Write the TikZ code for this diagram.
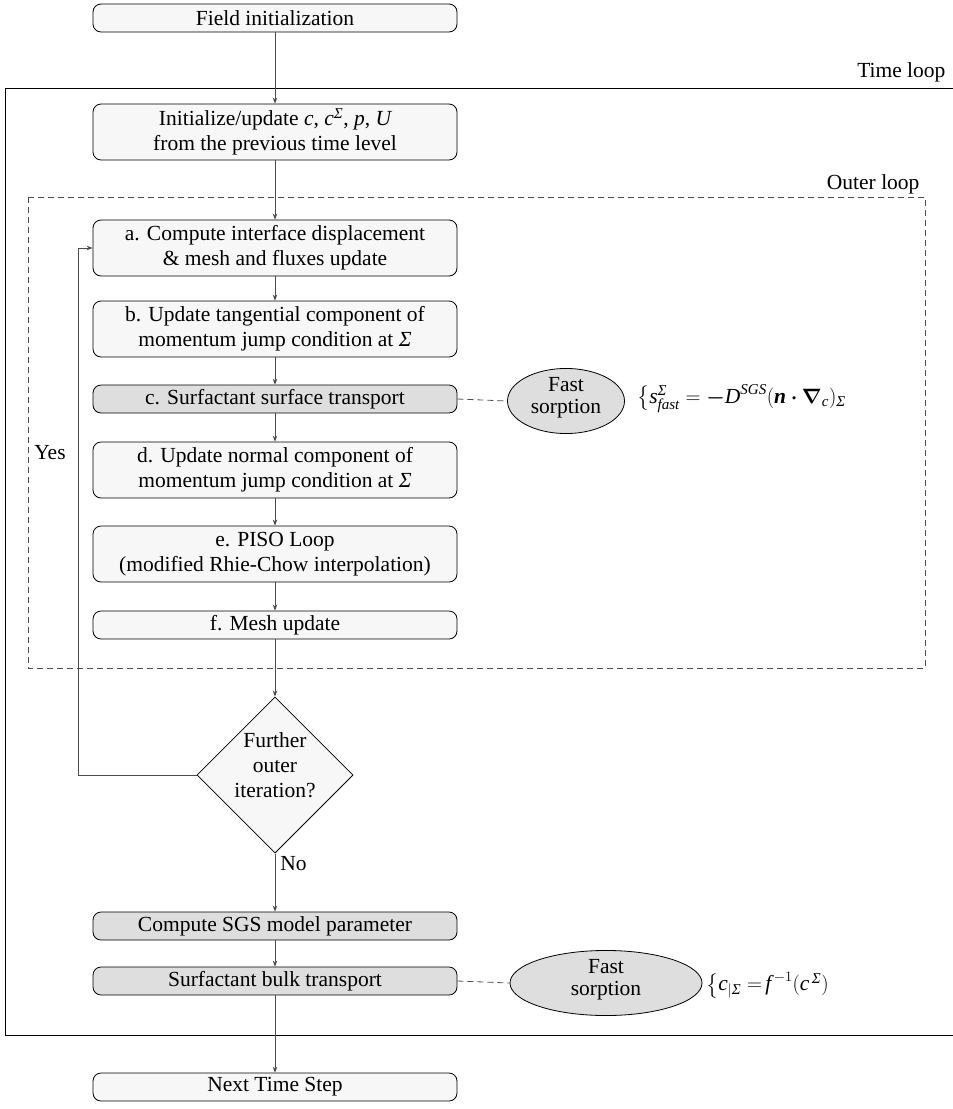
\documentclass[tikz,border=0pt]{standalone}
\usepackage{amsmath}
\usepackage{fontspec}
\setmainfont{Liberation Serif}
\usetikzlibrary{shapes.geometric,arrows.meta}
\definecolor{boxfill}{gray}{0.97}
\definecolor{grayfill}{gray}{0.87}
\definecolor{linegray}{gray}{0.3}
\newcommand{\mi}[1]{\text{\itshape #1}}
\newcommand{\Sg}{\text{\itshape Σ}}
\begin{document}
\begin{tikzpicture}[x=1pt,y=-1pt,
  font=\fontsize{21.5}{25}\selectfont,
  box/.style={draw=black, line width=0.8pt, rounded corners=8pt, fill=boxfill,
    minimum width=364pt, minimum height=28pt, align=center, inner sep=2pt},
  tallbox/.style={box, minimum height=56pt},
  graybox/.style={box, fill=grayfill},
  arr/.style={draw=linegray, line width=0.8pt, -{Stealth[length=6pt,width=4.5pt]}},
  ell/.style={ellipse, draw=black, line width=0.8pt, fill=grayfill, align=center,
    inner sep=0pt, font=\fontsize{21.5}{24}\selectfont},
  dline/.style={draw=linegray, line width=0.8pt, dash pattern=on 6pt off 4pt},
  dec/.style={diamond, draw=black, line width=0.8pt, fill=boxfill, align=center,
    inner sep=0pt, minimum width=156pt, minimum height=156pt, aspect=1}
]
\useasboundingbox (0,0) rectangle (953,1109);

% time loop frame
\draw[line width=0.8pt] (953,88) -- (5,88) -- (5,1035) -- (953,1035);
\node[anchor=east] (tl) at (949,72) {Time loop};

% outer loop frame
\draw[dline] (28,197) rectangle (925,668);
\node[anchor=east] (ol) at (923,184) {Outer loop};

% nodes
\node[box] (fi) at (275,18) {Field initialization};
\node[tallbox] (iu) at (275,132) {Initialize/update $\mi{c}$, $\mi{c}^{\Sg}$, $\mi{p}$, $\mi{U}$\\from the previous time level};
\node[tallbox] (a) at (275,248) {a. Compute interface displacement\\\& mesh and fluxes update};
\node[tallbox] (b) at (275,329) {b. Update tangential component of\\momentum jump condition at \textit{Σ}};
\node[graybox] (c) at (275,399) {c. Surfactant surface transport};
\node[tallbox] (d) at (275,470) {d. Update normal component of\\momentum jump condition at \textit{Σ}};
\node[tallbox] (e) at (275,554) {e. PISO Loop\\(modified Rhie-Chow interpolation)};
\node[box] (f) at (275,625) {f. Mesh update};
\node[dec] (dia) at (275,775) {\raisebox{8pt}[\height][\depth]{\begin{tabular}{@{}c@{}}Further\\outer\\iteration?\end{tabular}}};
\node[graybox] (sgs) at (275,926) {Compute SGS model parameter};
\node[graybox] (bulk) at (275,981) {Surfactant bulk transport};
\node[box] (next) at (275,1087) {Next Time Step};

\node[ell, minimum width=117pt, minimum height=62pt] (fs1) at (566,401) {\raisebox{3pt}[\height][\depth]{\begin{tabular}{@{}c@{}}Fast\\[-2pt]sorption\end{tabular}}};
\node[ell, minimum width=192pt, minimum height=62pt] (fs2) at (606,983) {\raisebox{3pt}[\height][\depth]{\begin{tabular}{@{}c@{}}Fast\\[-2pt]sorption\end{tabular}}};

\node[anchor=west, inner sep=0pt] (eq1) at (637,399)
  {$\big\{\mi{s}^{\Sg}_{\mi{fast}} = \boldsymbol{-}\mi{D}^{\mi{SGS}}(\text{\bfseries\itshape n}\boldsymbol{\cdot}\boldsymbol{\nabla}_{\mi{c}})_{\Sg}$};
\node[anchor=west, inner sep=0pt] (eq2) at (706,985)
  {$\big\{\mi{c}_{|\Sg}\;{=}\,\mi{f}^{\,-1}(\mi{c}^{\,\Sg})$};

\node (yes) at (50,453) {Yes};

% connectors
\draw[arr] (fi) -- (iu);
\draw[arr] (iu) -- (a);
\draw[arr] (a) -- (b);
\draw[arr] (b) -- (c);
\draw[arr] (c) -- (d);
\draw[arr] (d) -- (e);
\draw[arr] (e) -- (f);
\draw[arr] (f) -- (dia);
\draw[arr] (dia.south) -- node[pos=0.17, right, inner sep=5pt] (no) {No} (sgs);
\draw[arr] (dia.west) -- ++(-118,0) |- (a.west);
\draw[arr] (sgs) -- (bulk);
\draw[arr] (bulk) -- (next);
\draw[dline] (c.east) -- (fs1.west);
\draw[dline] (bulk.east) -- (fs2.west);
\end{tikzpicture}
\end{document}
